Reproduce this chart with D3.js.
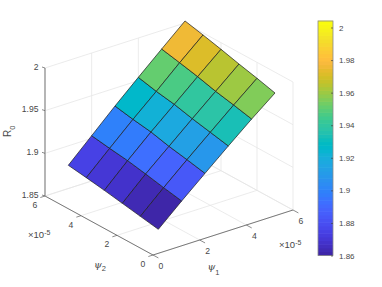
<!DOCTYPE html>
<html><head><meta charset="utf-8">
<script src="https://cdn.jsdelivr.net/npm/d3@7"></script>
<style>html,body{margin:0;padding:0;background:#fff}svg{display:block}
text{font-family:"Liberation Sans",Arial,sans-serif;fill:#484848}</style></head>
<body><svg id="c" width="382" height="287"></svg>
<script>
const psi1Values=[1,2,3,4,5,6];
const psi2Values=[1,2,3,4,5,6];
const r0Row1=[1.8598,1.8842,1.9078,1.9311,1.9539,1.9756];
const r0Row2=[1.8635,1.8883,1.9123,1.9356,1.9588,1.9813];
const r0Row3=[1.8672,1.8928,1.9164,1.9400,1.9633,1.9865];
const r0Row4=[1.8709,1.8969,1.9217,1.9453,1.9690,1.9922];
const r0Row5=[1.8742,1.8998,1.9250,1.9490,1.9738,1.9975];
const r0Row6=[1.8772,1.9031,1.9291,1.9539,1.9783,2.0024];
const r0Rows=[r0Row1,r0Row2,r0Row3,r0Row4,r0Row5,r0Row6];
const psiTicks=[0,2,4,6];
const zTicks=[1.85,1.9,1.95,2];
const barTicks=[1.86,1.88,1.9,1.92,1.94,1.96,1.98,2];
const colorLimits=[1.8598,2.0024];
const barLimits=[1.86,2.004];
const parula=[[.2422,.1504,.6603],[.2504,.165,.7076],[.2578,.1818,.7511],[.2647,.1978,.7952],[.2706,.2147,.8364],[.2751,.2342,.871],[.2783,.2559,.8991],[.2803,.2782,.9221],[.2813,.3006,.9414],[.281,.3228,.9579],[.2795,.3447,.9717],[.276,.3667,.9829],[.2699,.3892,.9906],[.2602,.4123,.9952],[.244,.4358,.9988],[.2206,.4603,.9973],[.1963,.4847,.9892],[.1834,.5074,.9798],[.1786,.5289,.9682],[.1764,.5499,.952],[.1687,.5703,.9359],[.154,.5902,.9218],[.146,.6091,.9079],[.138,.6276,.8973],[.1248,.6459,.8883],[.1113,.6635,.8763],[.0952,.6798,.8598],[.0689,.6948,.8394],[.0297,.7082,.8163],[.0036,.7203,.7917],[.0067,.7312,.766],[.0433,.7411,.7394],[.0964,.75,.712],[.1408,.7584,.6842],[.1717,.767,.6554],[.1938,.7758,.6251],[.2161,.7843,.5923],[.247,.7918,.5567],[.2906,.7973,.5188],[.3406,.8008,.4789],[.3909,.8029,.4354],[.4456,.8024,.3909],[.5044,.7993,.348],[.5616,.7942,.3045],[.6174,.7876,.2612],[.672,.7793,.2227],[.7242,.7698,.191],[.7738,.7598,.1646],[.8203,.7498,.1535],[.8634,.7406,.1596],[.9035,.733,.1774],[.9393,.7288,.21],[.9728,.7298,.2394],[.9956,.7434,.2371],[.9961,.7653,.2199],[.988,.789,.2102],[.9806,.8163,.198],[.97,.842,.18],[.961,.868,.165],[.9587,.895,.152],[.96,.92,.13],[.965,.945,.105],[.971,.965,.08],[.9763,.9831,.0538]];

const svg=d3.select("#c");
// oblique projection: each data axis contributes a screen x and y offset
const p1X=d3.scaleLinear().domain([0,6]).range([0,140]);
const p1Y=d3.scaleLinear().domain([0,6]).range([0,-45]);
const p2X=d3.scaleLinear().domain([0,6]).range([0,-108]);
const p2Y=d3.scaleLinear().domain([0,6]).range([0,-59]);
const zY=d3.scaleLinear().domain([1.85,2]).range([0,-128]);
const O=[153,255];
const px=(a,b)=>O[0]+p1X(a)+p2X(b);
const py=(a,b,z)=>O[1]+p1Y(a)+p2Y(b)+zY(z);
const P=(a,b,z)=>[px(a,b),py(a,b,z)];
const parulaCss=parula.map(c=>d3.rgb(c[0]*255,c[1]*255,c[2]*255).formatHex());
const color=d3.scaleQuantize().domain(colorLimits).range(parulaCss);
const ln=d3.line();

// grid
const grid=svg.append("g").attr("fill","none").attr("stroke","#e6e6e6").attr("stroke-width",0.8);
const Z0=1.85,Z1=2;
zTicks.forEach(z=>{
  grid.append("path").attr("d",ln([P(0,6,z),P(6,6,z),P(6,0,z)]));
});
psiTicks.forEach(t=>{
  grid.append("path").attr("d",ln([P(t,0,Z0),P(t,6,Z0),P(t,6,Z1)]));
  grid.append("path").attr("d",ln([P(0,t,Z0),P(6,t,Z0),P(6,t,Z1)]));
});

// axes
const ax=svg.append("g").attr("fill","none");
ax.append("path").attr("d",ln([P(0,0,Z0),P(6,0,Z0)])).attr("stroke","#5a5a5a").attr("stroke-width",0.8);
ax.append("path").attr("d",ln([P(0,0,Z0),P(0,6,Z0)])).attr("stroke","#5a5a5a").attr("stroke-width",0.8);
ax.append("path").attr("d",ln([P(0,6,Z0),P(0,6,Z1)])).attr("stroke","#a6a6a6").attr("stroke-width",1.6);
psiTicks.forEach(t=>{
  ax.append("path").attr("d",ln([P(t,0,Z0),P(t,-0.3,Z0)])).attr("stroke","#5a5a5a").attr("stroke-width",0.7);
  ax.append("path").attr("d",ln([P(0,t,Z0),P(-0.2,t,Z0)])).attr("stroke","#5a5a5a").attr("stroke-width",0.7);
});
zTicks.forEach(z=>{
  ax.append("path").attr("d",ln([P(0,6,z),[px(0,6)-3,py(0,6,z)-1]])).attr("stroke","#5a5a5a").attr("stroke-width",0.7);
});

// surface: each facet coloured by its lowest-index corner
const surf=svg.append("g").attr("stroke","#1c1c1c").attr("stroke-width",0.7).attr("stroke-linejoin","round");
for(let j=psi2Values.length-2;j>=0;j--){
  for(let i=0;i<psi1Values.length-1;i++){
    const a=psi1Values[i],a2=psi1Values[i+1],b=psi2Values[j],b2=psi2Values[j+1];
    surf.append("path")
      .attr("d",ln([P(a,b,r0Rows[j][i]),P(a2,b,r0Rows[j][i+1]),P(a2,b2,r0Rows[j+1][i+1]),P(a,b2,r0Rows[j+1][i])])+"Z")
      .attr("fill",color(r0Rows[j][i]));
  }
}

// tick labels
const lab=svg.append("g").attr("font-size",8.6);
zTicks.forEach(z=>{
  lab.append("text").attr("x",38.5).attr("y",py(0,6,z)+1.7).attr("text-anchor","end").text(z===2?"2":z);
});
psiTicks.forEach(t=>{
  lab.append("text").attr("x",px(t,0)+8).attr("y",py(t,0,Z0)+14).attr("text-anchor","middle").text(t);
  lab.append("text").attr("x",px(0,t)-10).attr("y",py(0,t,Z0)+12).attr("text-anchor","middle").text(t);
});
function expo(x,y){
  const t=lab.append("text").attr("x",x).attr("y",y).attr("font-size",9.5);
  t.append("tspan").text("×10");
  t.append("tspan").attr("dy",-3).attr("font-size",7).text("-5");
}
expo(28,238);
expo(279,248);

// axis titles
const R=svg.append("text").attr("transform","translate(10.5,137) rotate(-90)").attr("font-size",10);
R.append("tspan").text("R");
R.append("tspan").attr("dy",4).attr("font-size",7.5).text("0");
function psi(x,y,s,d){
  const t=svg.append("text").attr("x",x).attr("y",y).attr("font-size",10);
  t.append("tspan").attr("font-family","DejaVu Serif").attr("font-style","italic").text("ψ");
  t.append("tspan").attr("dy",d).attr("font-size",7.5).text(s);
}
psi(94,267.5,"2",3.5);
psi(207.5,270,"1",4.5);

// colorbar
const barX=318,barW=15;
const barY=d3.scaleLinear().domain(barLimits).range([255.5,21]);
const cb=svg.append("g");
const steps=d3.range(64).map(i=>barLimits[0]+(i+0.5)*(barLimits[1]-barLimits[0])/64);
const stepH=(barY(barLimits[0])-barY(barLimits[1]))/64;
cb.selectAll("rect").data(steps).join("rect")
  .attr("x",barX).attr("width",barW)
  .attr("y",d=>barY(d)-stepH/2-0.3).attr("height",stepH+0.6)
  .attr("fill",(d,i)=>parulaCss[i]);
cb.append("rect").attr("x",barX).attr("y",21).attr("width",barW).attr("height",234.5)
  .attr("fill","none").attr("stroke","#8a8a8a").attr("stroke-width",0.8);
const axisG=cb.append("g").attr("transform",`translate(${barX+barW},0)`)
  .call(d3.axisRight(barY).tickValues(barTicks).tickSize(-2).tickPadding(6).tickFormat(d=>d===2?"2":d3.format(".2f")(d).replace(/0$/,"")));
axisG.select(".domain").remove();
axisG.selectAll("line").attr("stroke","#444").attr("stroke-width",0.7);
axisG.selectAll("text").attr("font-size",8).attr("font-family","Liberation Sans").attr("fill","#484848");
</script></body></html>
